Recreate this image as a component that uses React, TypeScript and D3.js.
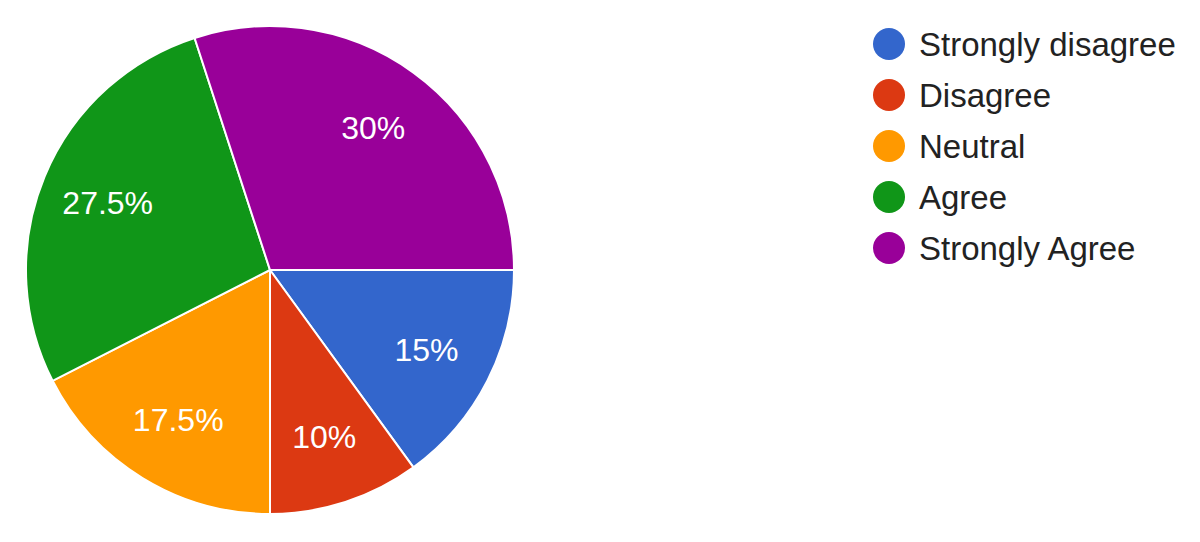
import React, {useEffect, useRef} from "react";
import * as d3 from "d3";

const categories = ["Strongly disagree", "Disagree", "Neutral", "Agree", "Strongly Agree"];
const percents = [15, 10, 17.5, 27.5, 30];
const colors = ["#3366cc", "#dc3912", "#ff9900", "#109618", "#990099"];

const WIDTH = 1200;
const HEIGHT = 542;

const App: React.FC = () => {
	const svgRef = useRef<SVGSVGElement>(null);

	useEffect(() => {
		const svg = d3.select(svgRef.current);
		svg.selectAll("*").remove();

		const cx = 270;
		const cy = 270;
		const radius = 244;
		const font = "'Liberation Sans', Arial, sans-serif";

		const data = categories.map((c, i) => ({label: c, value: percents[i], color: colors[i]}));

		// slices start at 3 o'clock and go clockwise
		const pie = d3
			.pie<{label: string; value: number; color: string}>()
			.sort(null)
			.value((d) => d.value)
			.startAngle(Math.PI / 2)
			.endAngle(Math.PI / 2 + 2 * Math.PI);

		const arc = d3.arc<d3.PieArcDatum<any>>().innerRadius(0).outerRadius(radius);
		const labelArc = d3
			.arc<d3.PieArcDatum<any>>()
			.innerRadius(radius * 0.72)
			.outerRadius(radius * 0.72);

		const g = svg.append("g").attr("transform", `translate(${cx}, ${cy})`);
		const arcs = pie(data);

		g.selectAll(".slice")
			.data(arcs)
			.enter()
			.append("path")
			.attr("class", "slice")
			.attr("d", arc)
			.attr("fill", (d) => d.data.color)
			.attr("stroke", "#ffffff")
			.attr("stroke-width", 2);

		g.selectAll(".slice-label")
			.data(arcs)
			.enter()
			.append("text")
			.attr("class", "slice-label")
			.attr("transform", (d) => `translate(${labelArc.centroid(d)})`)
			.attr("text-anchor", "middle")
			.attr("dominant-baseline", "central")
			.style("font-family", font)
			.style("font-size", "32px")
			.style("fill", "#ffffff")
			.text((d) => `${d.data.value}%`);

		// Legend
		const legendY = d3
			.scalePoint<string>()
			.domain(categories)
			.range([44, 248]);

		const legend = svg
			.append("g")
			.selectAll(".legend-item")
			.data(data)
			.enter()
			.append("g")
			.attr("class", "legend-item")
			.attr("transform", (d) => `translate(889, ${legendY(d.label)})`);

		legend.append("circle").attr("r", 16).attr("fill", (d) => d.color);

		legend
			.append("text")
			.attr("x", 30)
			.attr("dominant-baseline", "central")
			.style("font-family", font)
			.style("font-size", "33px")
			.style("fill", "#222222")
			.text((d) => d.label);
	}, []);

	return (
		<svg
			ref={svgRef}
			width={WIDTH}
			height={HEIGHT}
			style={{position: "fixed", left: 0, top: 0, background: "#ffffff"}}
		/>
	);
};

export default App;
